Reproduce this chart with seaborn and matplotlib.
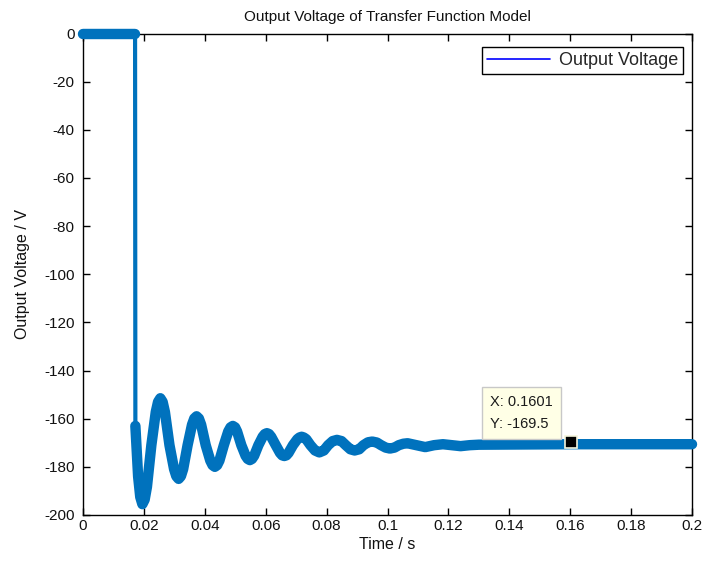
import matplotlib
matplotlib.use("Agg")
import matplotlib.pyplot as plt
from matplotlib.lines import Line2D
import seaborn as sns
import pandas as pd

# ---- data ----
time_s = [0.0, 0.0171,
          0.0172, 0.0181, 0.0188, 0.0195, 0.02025, 0.0210, 0.02245,
          0.0239, 0.02465, 0.0254, 0.02615, 0.0269, 0.0284,
          0.0299, 0.03065, 0.0314, 0.03215, 0.0329, 0.03435,
          0.0358, 0.03655, 0.0373, 0.03805, 0.0388, 0.0403,
          0.0418, 0.04255, 0.0433, 0.04405, 0.0448, 0.04625,
          0.0477, 0.04845, 0.0492, 0.04995, 0.0506, 0.0520,
          0.0534, 0.0541, 0.0548, 0.0555, 0.0562, 0.0576,
          0.0590, 0.0597, 0.0604, 0.0611, 0.0618, 0.0633,
          0.0647, 0.0654, 0.0661, 0.0668, 0.0675, 0.06895,
          0.0704, 0.0711, 0.0718, 0.0725, 0.0733, 0.0747,
          0.0762, 0.0776, 0.0791, 0.0805, 0.0820, 0.0834, 0.0849,
          0.0863, 0.0878, 0.0892, 0.0907, 0.0921, 0.0936, 0.0950, 0.0965, 0.0979, 0.0994,
          0.1008, 0.1023, 0.1037, 0.1052, 0.1066, 0.1095, 0.1124, 0.1153, 0.1182, 0.1211,
          0.1240, 0.1270, 0.1300, 0.1601, 0.2000]
voltage_v = [0.0, 0.0,
             -163.0, -184.0, -192.5, -195.5, -193.6, -188.3, -171.0,
             -157.2, -153.0, -151.5, -153.0, -157.2, -171.0,
             -180.9, -183.9, -185.0, -183.9, -180.9, -171.0,
             -162.5, -159.9, -159.0, -159.9, -162.5, -171.0,
             -177.4, -179.3, -180.0, -179.3, -177.4, -171.0,
             -165.3, -163.6, -163.0, -163.6, -165.3, -171.0,
             -175.4, -176.7, -177.2, -176.7, -175.4, -171.0,
             -167.5, -166.4, -166.0, -166.4, -167.5, -171.0,
             -174.2, -175.2, -175.5, -175.2, -174.2, -171.0,
             -168.5, -167.8, -167.5, -167.8, -168.5, -171.0,
             -173.2, -174.0, -173.2, -171.0, -169.3, -168.8, -169.3,
             -171.0, -172.7, -173.2, -172.7, -171.0, -169.8, -169.5, -169.9, -171.0, -172.0,
             -172.4, -172.0, -171.0, -170.4, -170.2, -171.0, -171.8, -171.0, -170.6, -171.0,
             -171.4, -171.0, -170.8, -170.6, -170.6]
step_index = 2  # first sample after the step

tip_x, tip_y = 0.1601, -169.5
x_ticks = [0, 0.02, 0.04, 0.06, 0.08, 0.1, 0.12, 0.14, 0.16, 0.18, 0.2]
x_tick_labels = ["0", "0.02", "0.04", "0.06", "0.08", "0.1", "0.12", "0.14", "0.16", "0.18", "0.2"]
y_ticks = [0, -20, -40, -60, -80, -100, -120, -140, -160, -180, -200]

title = "Output Voltage of Transfer Function Model"
xlabel = "Time / s"
ylabel = "Output Voltage / V"
legend_label = "Output Voltage"

# ---- style ----
sns.set_theme(style="white")
plt.rcParams["font.family"] = ["Liberation Sans", "DejaVu Sans"]
plt.rcParams["xtick.direction"] = "in"
plt.rcParams["ytick.direction"] = "in"

df = pd.DataFrame({"t": time_s, "v": voltage_v})
pre = df.iloc[:step_index]
post = df.iloc[step_index:]

fig = plt.figure(figsize=(7.04, 5.67), dpi=100)
ax = fig.add_axes([83 / 704, 1 - 515 / 567, (692 - 83) / 704, (515 - 33.5) / 567])

line_color = "#0072BD"
sns.lineplot(data=df, x="t", y="v", ax=ax, color=line_color, lw=3, sort=False,
             estimator=None, clip_on=False, zorder=3)
for seg in (pre, post):
    sns.lineplot(data=seg, x="t", y="v", ax=ax, color=line_color, lw=7.5, sort=False,
                 estimator=None, clip_on=False, solid_capstyle="round",
                 solid_joinstyle="round", zorder=3)

# data tip marker and box
ax.plot([tip_x], [tip_y], marker="s", ms=8, mfc="black", mec="#f5f5dc", mew=1.2,
        ls="none", zorder=5, clip_on=False)
ax.annotate(f"X: {tip_x:.4f}\nY: {tip_y:.1f}", xy=(tip_x, tip_y), xytext=(0.1337, -165.3),
            textcoords="data", fontsize=10.5, color="#1a1a1a", linespacing=1.75,
            ha="left", va="bottom",
            bbox=dict(boxstyle="square,pad=0.55", fc="#FFFFE6", ec="#c8c8c8", lw=1), zorder=6)

ax.set_xlim(0, 0.2)
ax.set_ylim(-200, 0)
ax.set_xticks(x_ticks)
ax.set_xticklabels(x_tick_labels)
ax.set_yticks(y_ticks)
ax.set_yticklabels([str(v) for v in y_ticks])
ax.tick_params(axis="both", which="both", direction="in", length=5, width=1, color="black",
               labelsize=11, labelcolor="#111111", top=True, right=True,
               bottom=True, left=True)
ax.tick_params(axis="y", pad=6)
ax.tick_params(axis="x", pad=3)
for sp in ax.spines.values():
    sp.set_color("black")
    sp.set_linewidth(1)
    sp.set_visible(True)

ax.set_title(title, fontsize=11, color="#111111", pad=9)
ax.set_xlabel(xlabel, fontsize=11.5, color="#111111", labelpad=3)
ax.set_ylabel(ylabel, fontsize=11.5, color="#111111", labelpad=10)

handle = Line2D([], [], color="#0000FF", lw=1.2)
leg = ax.legend([handle], [legend_label], loc="upper right", fontsize=13,
                frameon=True, fancybox=False, framealpha=1, edgecolor="black",
                handlelength=3.5, handletextpad=0.45, borderpad=0.28, borderaxespad=0,
                bbox_to_anchor=(0.985, 0.972))
leg.get_frame().set_linewidth(1)

fig.savefig("out.png", dpi=100, facecolor="white")
